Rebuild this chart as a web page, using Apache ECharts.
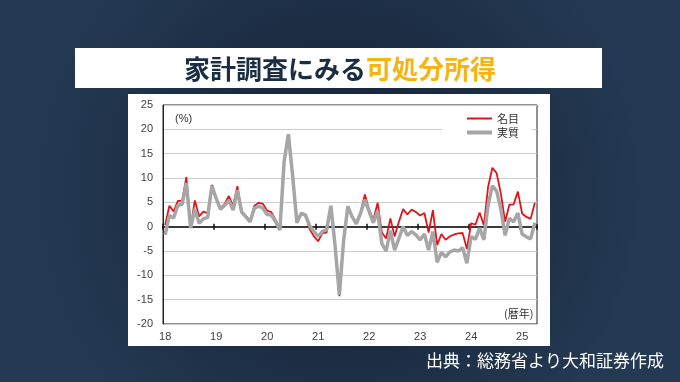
<!DOCTYPE html>
<html>
<head>
<meta charset="utf-8">
<script src="https://cdn.jsdelivr.net/npm/echarts@6/dist/echarts.min.js"></script>
<style>
html,body{margin:0;padding:0;background:#16263b;}
#c{width:680px;height:382px;}
</style>
</head>
<body>
<div id="c"></div>
<script>
// ---- data (monthly, Jan 2018 - Apr 2025, YoY %) ----
var years = ['2018','2019','2020','2021','2022','2023','2024','2025'];
var tickLabels = ['18','19','20','21','22','23','24','25'];
var lastYearMonths = 4;
var nominal = [
  0.3, 4.3, 3.1, 5.3, 5.3, 10.2, 0.0, 5.4, 2.1, 3.1, 2.8, 8.6,
  6.0, 3.8, 4.7, 6.3, 4.3, 8.3, 3.2, 2.2, 1.2, 4.3, 4.9, 4.7,
  3.3, 3.0, 1.4, -0.5, 13.4, 19.0, 10.5, 0.8, 2.8, 2.5, -0.5, -2.0,
  -3.0, -1.3, -1.2, 4.0, -4.0, -14.3, -2.8, 4.0, 2.1, 0.8, 3.0, 6.6,
  3.5, 1.4, 4.9, -1.2, -2.4, 1.7, -2.0, 1.0, 3.6, 2.5, 3.5, 3.0,
  2.3, 2.8, -1.2, 3.4, -3.8, -1.5, -2.7, -2.0, -1.6, -1.4, -1.3, -4.6,
  0.7, 0.4, 2.9, 0.3, 8.2, 12.1, 11.0, 6.8, 1.0, 4.5, 4.6, 7.2,
  2.7, 2.0, 1.6, 4.9
];
var real = [
  -1.7, 2.3, 1.8, 4.4, 4.6, 9.0, -0.3, 3.6, 0.7, 1.6, 1.9, 8.4,
  5.8, 3.6, 4.4, 5.4, 3.4, 7.5, 3.0, 2.0, 1.0, 3.8, 4.2, 3.8,
  2.5, 2.4, 1.0, -0.7, 13.4, 19.0, 10.5, 0.8, 2.7, 2.4, 0.2, -1.0,
  -2.0, -1.0, -0.6, 4.3, -4.0, -14.0, -2.8, 4.2, 2.0, 0.6, 2.8, 5.5,
  3.1, 0.8, 3.2, -3.5, -5.0, -0.8, -4.8, -2.4, 0.0, -1.8, -1.0, -1.7,
  -2.7, -1.5, -4.8, -1.0, -7.3, -5.3, -6.2, -5.2, -4.8, -5.0, -4.3, -7.5,
  -2.0, -2.6, -0.3, -2.7, 4.5, 8.4, 7.3, 3.6, -1.8, 1.7, 1.0, 2.8,
  -1.5, -2.1, -2.5, 0.8
];

var categories = [];
years.forEach(function (y, yi) {
  var n = (yi === years.length - 1) ? lastYearMonths : 12;
  for (var m = 1; m <= n; m++) categories.push(y + '/' + m);
});

var chart = echarts.init(document.getElementById('c'), null, {renderer: 'canvas'});
var isJan = function (idx) { return idx % 12 === 0; };
var baseFont = 'Liberation Sans, Arial, Noto Sans CJK JP, sans-serif';

var option = {
  animation: false,
  backgroundColor: {
    type: 'radial', x: 0.5, y: 0.5, r: 0.8,
    colorStops: [{offset: 0, color: '#121f33'}, {offset: 1, color: '#243952'}]
  },
  title: {
    left: 'center', top: 51,
    text: '{a|家計調査にみる}{b|可処分所得}',
    textStyle: {
      rich: {
        a: {fontSize: 26, fontWeight: 'bold', color: '#1b2d43', fontFamily: 'Noto Sans CJK JP'},
        b: {fontSize: 26, fontWeight: 'bold', color: '#f6b412', fontFamily: 'Noto Sans CJK JP'}
      }
    }
  },
  graphic: [
    {type: 'rect', z: -10, shape: {x: 75, y: 48, width: 527, height: 40}, style: {fill: '#ffffff'}},
    {type: 'rect', z: -10, shape: {x: 128, y: 94, width: 422, height: 252}, style: {fill: '#ffffff'}},
    {type: 'text', z: 10, left: 175, top: 113, style: {text: '(%)', fontSize: 11, fill: '#333', fontFamily: baseFont}},
    {type: 'text', z: 10, left: 504, top: 308, style: {text: '(暦年)', fontSize: 11, fill: '#333', fontFamily: 'Noto Sans CJK JP'}},
    {type: 'text', z: 10, right: 16, top: 352, style: {text: '出典：総務省より大和証券作成', fontSize: 17, fill: '#ffffff', fontFamily: 'Noto Sans CJK JP'}}
  ],
  legend: {
    orient: 'vertical', left: 442, top: 108,
    padding: [5, 13, 5, 25], itemGap: 3, itemWidth: 25, itemHeight: 14,
    backgroundColor: '#ffffff',
    textStyle: {fontSize: 11, color: '#333', fontFamily: 'Noto Sans CJK JP'},
    data: [
      {name: '名目', icon: 'path://M0,0H25V2H0Z'},
      {name: '実質', icon: 'path://M0,0H25V4H0Z'}
    ]
  },
  grid: {
    left: 163, top: 105, right: 143, bottom: 58,
    show: true, borderColor: '#222', borderWidth: 1, backgroundColor: 'transparent'
  },
  xAxis: [
    {
      type: 'category', data: categories, position: 'bottom', boundaryGap: true,
      axisLine: {show: true, onZero: true, onZeroAxisIndex: 0, lineStyle: {color: '#3a3a3a', width: 2}},
      axisTick: {show: true, interval: isJan, length: 3, lineStyle: {color: '#111', width: 1.5}},
      axisLabel: {show: false}, splitLine: {show: false}
    },
    {
      type: 'category', data: categories, position: 'top', boundaryGap: true,
      axisLine: {show: true, onZero: true, onZeroAxisIndex: 0, lineStyle: {color: '#3a3a3a', width: 2}},
      axisTick: {show: true, interval: isJan, length: 3, lineStyle: {color: '#111', width: 1.5}},
      axisLabel: {show: false}, splitLine: {show: false}
    },
    {
      type: 'category', data: categories, position: 'bottom', boundaryGap: true,
      axisLine: {show: false, onZero: false}, axisTick: {show: false}, splitLine: {show: false},
      axisLabel: {
        show: true, interval: isJan, margin: 7, fontSize: 11, color: '#404040', fontFamily: baseFont,
        formatter: function (v, idx) { return tickLabels[Math.floor(idx / 12)]; }
      }
    }
  ],
  yAxis: {
    type: 'value', min: -20, max: 25, interval: 5,
    axisLine: {show: true, lineStyle: {color: '#222', width: 1}},
    axisTick: {show: false},
    axisLabel: {fontSize: 11, color: '#404040', margin: 10, fontFamily: baseFont},
    splitLine: {show: true, lineStyle: {color: '#cccccc', width: 1}}
  },
  series: [
    {
      name: '名目', type: 'line', xAxisIndex: 0, data: nominal, symbol: 'none',
      lineStyle: {color: '#e2141b', width: 1.8}, itemStyle: {color: '#e2141b'}, z: 3
    },
    {
      name: '実質', type: 'line', xAxisIndex: 0, data: real, symbol: 'none',
      lineStyle: {color: '#a6a6a6', width: 3.5}, itemStyle: {color: '#a6a6a6'}, z: 4
    }
  ]
};
chart.setOption(option);
</script>
</body>
</html>
